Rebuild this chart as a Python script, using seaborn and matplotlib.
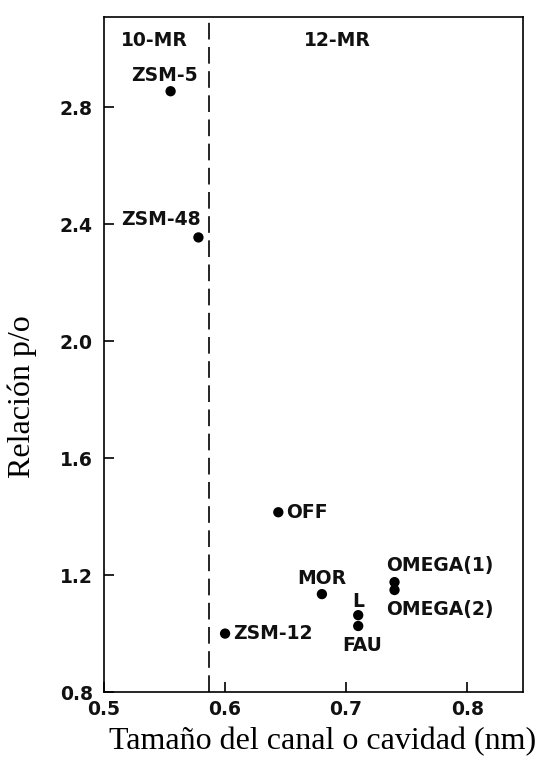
import pandas as pd
import matplotlib.pyplot as plt
import seaborn as sns

# Datos
zeolitas = ["ZSM-5", "ZSM-48", "ZSM-12", "OFF", "MOR", "L", "FAU", "OMEGA(1)", "OMEGA(2)"]
tamano = [0.555, 0.578, 0.600, 0.644, 0.680, 0.710, 0.710, 0.740, 0.740]
relacion = [2.855, 2.355, 1.000, 1.415, 1.135, 1.063, 1.026, 1.176, 1.149]

# desplazamiento de las etiquetas (pixeles) y alineación
offsets = {
    "ZSM-5": (-6, 16, "center"),
    "ZSM-48": (-38, 18, "center"),
    "ZSM-12": (8, 0, "left"),
    "OFF": (8, 0, "left"),
    "MOR": (0, 16, "center"),
    "L": (0, 14, "center"),
    "FAU": (4, -20, "center"),
    "OMEGA(1)": (-8, 17, "left"),
    "OMEGA(2)": (-8, -19, "left"),
}

df = pd.DataFrame({"zeolita": zeolitas, "tamano": tamano, "relacion": relacion})

sns.set_style("ticks", {"axes.edgecolor": "black", "text.color": "black",
                        "xtick.color": "black", "ytick.color": "black",
                        "axes.labelcolor": "black"})
plt.rcParams["font.family"] = ["DejaVu Sans"]

fig = plt.figure(figsize=(5.39, 7.58), dpi=100)
ax = fig.add_axes([0.193, 0.087, 0.777, 0.891])

sns.scatterplot(data=df, x="tamano", y="relacion", color="black", s=55,
                edgecolor="none", ax=ax, zorder=3)

fs = 13.5
for _, r in df.iterrows():
    dx, dy, ha = offsets[r["zeolita"]]
    ax.annotate(r["zeolita"], (r["tamano"], r["relacion"]), xytext=(dx, dy),
                textcoords="offset pixels", ha=ha, va="center",
                fontsize=fs, fontweight="bold", color="#111111")

# separación 10-MR / 12-MR
ax.axvline(0.587, color="black", lw=1.2, dashes=(10, 4.5))
ax.text(0.542, 3.03, "10-MR", ha="center", va="center", fontsize=fs, fontweight="bold", color="#111111")
ax.text(0.693, 3.03, "12-MR", ha="center", va="center", fontsize=fs, fontweight="bold", color="#111111")

ax.set_xlim(0.5, 0.846)
ax.set_ylim(0.8, 3.11)
ax.set_xticks([0.5, 0.6, 0.7, 0.8])
ax.set_yticks([0.8, 1.2, 1.6, 2.0, 2.4, 2.8])
ax.set_xticklabels(["0.5", "0.6", "0.7", "0.8"])
ax.set_yticklabels(["0.8", "1.2", "1.6", "2.0", "2.4", "2.8"])
ax.tick_params(direction="in", length=7, width=1.2, labelsize=fs, labelcolor="#111111")
ax.tick_params(axis="y", pad=8)
ax.tick_params(axis="x", pad=6)
for lab in ax.get_xticklabels() + ax.get_yticklabels():
    lab.set_fontweight("bold")
for sp in ax.spines.values():
    sp.set_visible(True)
    sp.set_linewidth(1.2)

ax.set_xlabel("Tamaño del canal o cavidad (nm)", family="Liberation Serif", fontsize=23, color="black")
ax.set_ylabel("Relación p/o", family="Liberation Serif", fontsize=23, color="black")
ax.xaxis.set_label_coords(0.523, -0.052)
ax.yaxis.set_label_coords(-0.16, 0.437)

fig.savefig("out.png", dpi=100)
